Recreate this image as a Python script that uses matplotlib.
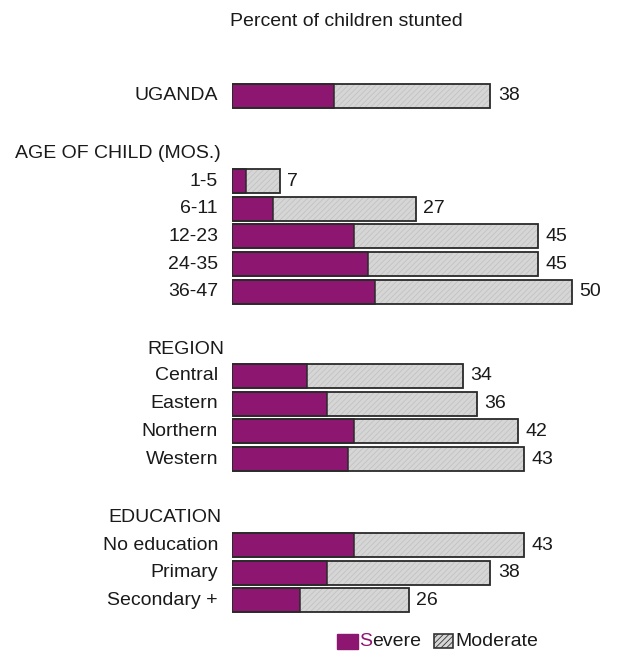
import matplotlib.pyplot as plt

# Data
groups = ["", "AGE OF CHILD (MOS.)", "REGION", "EDUCATION"]
labels = [
    ["UGANDA"],
    ["1-5", "6-11", "12-23", "24-35", "36-47"],
    ["Central", "Eastern", "Northern", "Western"],
    ["No education", "Primary", "Secondary +"],
]
total = [[38], [7, 27, 45, 45, 50], [34, 36, 42, 43], [43, 38, 26]]
severe = [[15], [2, 6, 18, 20, 21], [11, 14, 18, 17], [18, 14, 10]]

purple = "#8c1670"
gray = "#d6d6d6"
text_color = "#1a1a1a"
plt.rcParams["font.family"] = ["Liberation Sans", "DejaVu Sans"]
plt.rcParams["hatch.linewidth"] = 0.6
fs = 14

W, H = 617, 652
fig = plt.figure(figsize=(W / 100, H / 100), dpi=100)
# axes laid out in pixel units vertically, 6.8 px per percent horizontally
x0 = 232
ax = fig.add_axes([x0 / W, 0, (W - x0) / W, 1])
ax.set_xlim(0, (W - x0) / 6.8)
ax.set_ylim(H, 0)
ax.axis("off")

# vertical layout (pixels from top)
first_row = [96, 181, 376, 545]
step = 27.7
bar_h = 24

for g, name in enumerate(groups):
    if name:
        hx = {1: 15, 2: 147, 3: 108}[g]
        fig.text(hx / W, 1 - (first_row[g] - 27) / H, name, ha="left", va="center",
                 fontsize=fs, color=text_color)
    for i, lab in enumerate(labels[g]):
        y = first_row[g] + i * step
        s = severe[g][i]
        t = total[g][i]
        ax.barh(y, s, height=bar_h, color=purple, edgecolor="none")
        ax.barh(y, t - s, left=s, height=bar_h, color=gray, hatch="//////",
                edgecolor="#c2c2c2", linewidth=0)
        ax.barh(y, s, height=bar_h, fill=False, edgecolor="#2a2a2a", linewidth=1.1)
        ax.barh(y, t, height=bar_h, fill=False, edgecolor="#2a2a2a", linewidth=1.3)
        ax.text(t + 1.1, y, f"{t}", ha="left", va="center", fontsize=fs, color=text_color)
        fig.text(218 / W, 1 - y / H, lab, ha="right", va="center", fontsize=fs,
                 color=text_color)

fig.text(346 / W, 1 - 22 / H, "Percent of children stunted", ha="center", va="center",
         fontsize=fs, color=text_color)

# legend
ly = 641
fig.patches.append(plt.Rectangle((337 / W, 1 - (ly + 8) / H), 21 / W, 15 / H,
                                 transform=fig.transFigure, color=purple))
s_txt = fig.text(359 / W, 1 - ly / H, "S", ha="left", va="center", fontsize=fs,
                 color=purple)
fig.canvas.draw()
s_end = s_txt.get_window_extent().x1
fig.text(s_end / W, 1 - ly / H, "evere", ha="left", va="center", fontsize=fs,
         color=text_color)
fig.patches.append(plt.Rectangle((434 / W, 1 - (ly + 7) / H), 19 / W, 14 / H,
                                 transform=fig.transFigure, facecolor=gray, hatch="//////",
                                 edgecolor="#333333", linewidth=1.2))
fig.text(455 / W, 1 - ly / H, "Moderate", ha="left", va="center", fontsize=fs,
         color=text_color)

fig.savefig("out.png", dpi=100)
